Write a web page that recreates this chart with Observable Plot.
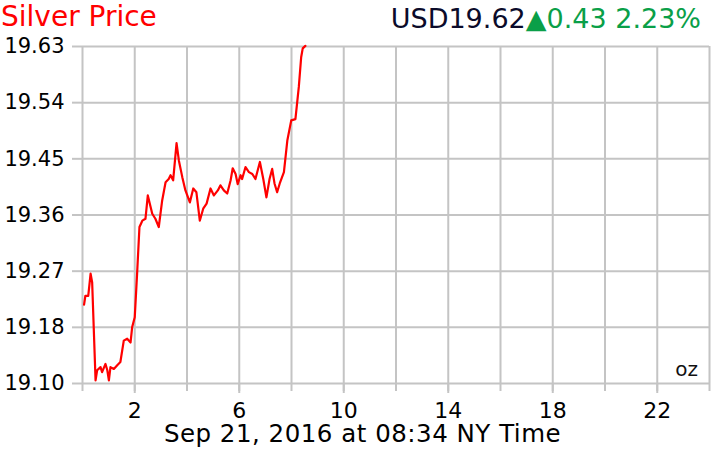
<!DOCTYPE html>
<html>
<head>
<meta charset="utf-8">
<script src="https://cdn.jsdelivr.net/npm/d3@7"></script>
<script src="https://cdn.jsdelivr.net/npm/@observablehq/plot@0.6"></script>
<style>
  html, body { margin: 0; padding: 0; background: #fff; }
  #wrap { position: relative; width: 720px; height: 450px; overflow: hidden; font-family: "DejaVu Sans", Verdana, sans-serif; }
  .lbl { position: absolute; white-space: nowrap; }
  #title { left: 1px; top: 3px; font-size: 28px; line-height: 28px; color: #ff0000; }
  #quote { right: 19px; top: 5px; font-size: 27px; line-height: 27px; }
  #caption { left: 0; width: 725px; text-align: center; top: 424px; font-size: 24.5px; line-height: 20px; letter-spacing: 0.5px; color: #000; }
  #unit { right: 22px; top: 359px; font-size: 20px; line-height: 20px; color: #111; }
  svg { position: absolute; left: 0; top: 0; }
</style>
</head>
<body>
<div id="wrap"></div>
<script>
const titleText = "Silver Price";
const currency = "USD";
const lastPrice = "19.62";
const change = "0.43";
const changePct = "2.23%";
const caption = "Sep 21, 2016 at 08:34 NY Time";
const unitText = "oz";

const hours = [0.06,0.11,0.22,0.31,0.37,0.50,0.56,0.69,0.75,0.88,0.95,1.01,1.07,1.20,1.33,1.45,1.58,1.71,1.84,1.90,2.00,2.09,2.18,2.29,2.41,2.50,2.67,2.79,2.92,3.05,3.18,3.30,3.37,3.47,3.60,3.69,3.82,3.94,4.11,4.24,4.36,4.49,4.62,4.75,4.90,5.03,5.18,5.28,5.41,5.54,5.67,5.75,5.86,5.94,6.05,6.11,6.24,6.37,6.50,6.62,6.79,6.92,7.04,7.16,7.26,7.35,7.45,7.55,7.71,7.84,7.99,8.15,8.28,8.37,8.43,8.53];
const prices = [19.220,19.234,19.234,19.269,19.255,19.100,19.116,19.121,19.113,19.126,19.116,19.100,19.121,19.118,19.124,19.129,19.163,19.166,19.160,19.184,19.200,19.269,19.343,19.353,19.356,19.393,19.364,19.356,19.343,19.385,19.414,19.419,19.425,19.417,19.476,19.448,19.422,19.401,19.382,19.404,19.398,19.353,19.372,19.380,19.404,19.393,19.401,19.409,19.401,19.396,19.417,19.436,19.427,19.411,19.425,19.419,19.438,19.430,19.427,19.419,19.446,19.419,19.390,19.419,19.435,19.412,19.398,19.412,19.430,19.480,19.512,19.514,19.565,19.612,19.626,19.630];

const yTicks = [19.095, 19.184, 19.273, 19.362, 19.451, 19.540, 19.629];
const yTickLabels = ["19.10", "19.18", "19.27", "19.36", "19.45", "19.54", "19.63"];
const xGridTicks = [0, 2, 4, 6, 8, 10, 12, 14, 16, 18, 20, 22, 24];
const xLabelTicks = [2, 6, 10, 14, 18, 22];

const data = hours.map((h, i) => ({h, v: prices[i]}));
const gridColor = "#c4c4c4";

const chart = Plot.plot({
  width: 720,
  height: 450,
  marginTop: 46,
  marginBottom: 67,
  marginLeft: 82,
  marginRight: 11,
  style: {fontFamily: "DejaVu Sans, Verdana, sans-serif", background: "transparent", color: "#000"},
  x: {domain: [0, 24], axis: null, label: null},
  y: {domain: [19.095, 19.629], axis: null, label: null},
  marks: [
    Plot.gridX({ticks: xGridTicks, stroke: gridColor, strokeOpacity: 1, strokeWidth: 2}),
    Plot.gridY({ticks: yTicks, stroke: gridColor, strokeOpacity: 1, strokeWidth: 2}),
    Plot.axisX({ticks: xGridTicks, tickSize: 8, tickFormat: () => "", label: null, stroke: gridColor, strokeWidth: 2}),
    Plot.axisX({ticks: xLabelTicks, tickSize: 10, tickPadding: 9, fontSize: 22, label: null, stroke: gridColor, strokeWidth: 2, fill: "#000", tickFormat: d => String(d)}),
    Plot.axisY({ticks: yTicks, tickSize: 10, tickPadding: 8, fontSize: 21, label: null, stroke: gridColor, strokeWidth: 2, fill: "#000", tickFormat: d => yTickLabels[yTicks.indexOf(d)]}),
    Plot.line(data, {x: "h", y: "v", stroke: "#ff0000", strokeWidth: 2.2})
  ]
});

const wrap = document.getElementById("wrap");
wrap.appendChild(chart);

function addLabel(id, html) {
  const d = document.createElement("div");
  d.className = "lbl";
  d.id = id;
  d.innerHTML = html;
  wrap.appendChild(d);
}
addLabel("title", titleText);
addLabel("quote", `<span style="color:#0b0b2a">${currency}${lastPrice}</span><span style="color:#0a9f48">▲${change} ${changePct}</span>`);
addLabel("caption", caption);
addLabel("unit", unitText);
</script>
</body>
</html>
